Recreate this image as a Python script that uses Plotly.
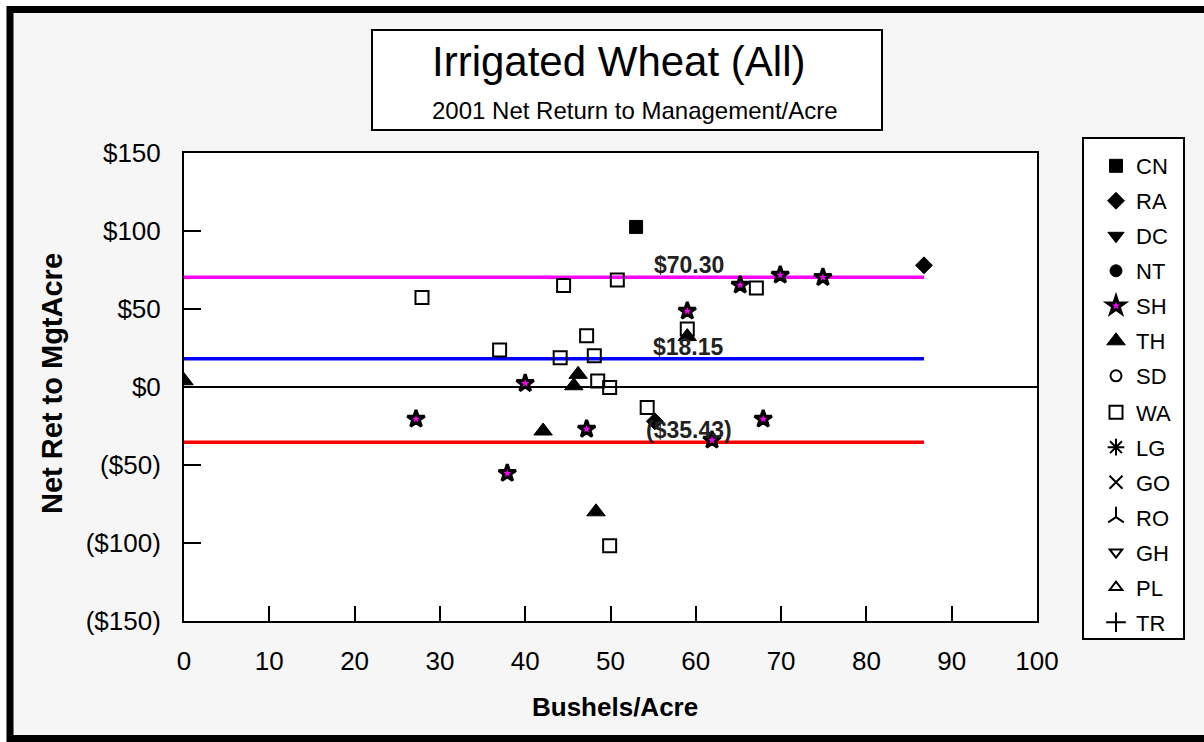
import plotly.graph_objects as go

# ---------------- data ----------------
series_names = ["CN", "RA", "DC", "NT", "SH", "TH", "SD", "WA", "LG", "GO", "RO", "GH", "PL", "TR"]

cn_x = [53.0]
cn_y = [102.6]
ra_x = [86.75, 55.2]
ra_y = [78.0, -22.0]
sh_x = [27.2, 37.9, 40.0, 47.2, 59.0, 61.9, 65.2, 67.9, 69.9, 74.9]
sh_y = [-20.5, -55.3, 2.3, -27.0, 48.7, -34.0, 65.4, -20.5, 71.8, 70.3]
th_x = [0.0, 42.1, 45.7, 46.2, 48.3, 59.0]
th_y = [4.0, -28.2, 0.8, 8.1, -80.0, 32.3]
wa_x = [27.9, 37.0, 44.1, 44.5, 47.2, 48.1, 48.5, 49.9, 49.9, 50.8, 54.3, 59.0, 67.1]
wa_y = [57.3, 23.7, 18.8, 65.0, 32.9, 20.1, 3.8, -0.4, -101.7, 68.6, -13.2, 37.2, 63.5]

ref_values = [70.30, 18.15, -35.43]
ref_labels = ["$70.30", "$18.15", "($35.43)"]
ref_colors = ["#FF00FF", "#0000FF", "#FF0000"]
ref_x = [0.0, 86.75]
ref_label_x = 59.2

x_ticks = [0, 10, 20, 30, 40, 50, 60, 70, 80, 90, 100]
y_ticks = [-150, -100, -50, 0, 50, 100, 150]
y_ticktext = ["($150)", "($100)", "($50)", "$0", "$50", "$100", "$150"]

title_text = "Irrigated Wheat (All)"
subtitle_text = "2001 Net Return to Management/Acre"
x_title = "Bushels/Acre"
y_title = "Net Ret to MgtAcre"

# ---------------- geometry (pixels) ----------------
W, H = 1204, 742
PL, PR, PT, PB = 184, 1037, 153, 621
pw, ph = PR - PL, PB - PT


def px(xp):
    return (xp - PL) / pw


def py(yp):
    return (PB - yp) / ph


FONT = "Liberation Sans, Arial, sans-serif"

fig = go.Figure()

# reference lines
for v, c in zip(ref_values, ref_colors):
    fig.add_trace(go.Scatter(x=ref_x, y=[v, v], mode="lines",
                             line=dict(color=c, width=3.5),
                             showlegend=False, hoverinfo="skip"))

styles = {
    "CN": dict(symbol="square", color="black", size=13, line=dict(color="black", width=1)),
    "RA": dict(symbol="diamond", color="black", size=13, line=dict(color="black", width=1)),
    "DC": dict(symbol="triangle-down", color="black", size=14, line=dict(color="black", width=1)),
    "NT": dict(symbol="circle", color="black", size=12, line=dict(color="black", width=1)),
    "SH": dict(symbol="star", color="#FF00FF", size=13, line=dict(color="black", width=3)),
    "TH": dict(symbol="triangle-up", color="black", size=16, line=dict(color="black", width=1)),
    "SD": dict(symbol="circle-open", color="black", size=11, line=dict(color="black", width=2)),
    "WA": dict(symbol="square-open", color="black", size=13, line=dict(color="black", width=2)),
    "LG": dict(symbol="asterisk-open", color="black", size=14, line=dict(color="black", width=2)),
    "GO": dict(symbol="x-thin-open", color="black", size=13, line=dict(color="black", width=2)),
    "RO": dict(symbol="y-up-open", color="black", size=13, line=dict(color="black", width=2)),
    "GH": dict(symbol="triangle-down-open", color="black", size=11, line=dict(color="black", width=2)),
    "PL": dict(symbol="triangle-up-open", color="black", size=11, line=dict(color="black", width=2)),
    "TR": dict(symbol="cross-thin-open", color="black", size=14, line=dict(color="black", width=2)),
}
data = {
    "CN": (cn_x, cn_y),
    "RA": (ra_x, ra_y),
    "SH": (sh_x, sh_y),
    "TH": (th_x, th_y),
    "WA": (wa_x, wa_y),
}

for i, name in enumerate(series_names):
    xs, ys = data.get(name, ([None], [None]))
    fig.add_trace(go.Scatter(x=xs, y=ys, mode="markers", name=name,
                             marker=styles[name], legendgroup=name,
                             legend="legend" if i < 7 else "legend2"))

annotations = []
for v, t in zip(ref_values, ref_labels):
    annotations.append(dict(x=ref_label_x, y=v, xref="x", yref="y", text="<b>%s</b>" % t,
                            showarrow=False, yshift=12,
                            font=dict(family=FONT, size=23, color="#222222")))

annotations += [
    dict(x=px(618), y=py(61), xref="paper", yref="paper", text=title_text, showarrow=False,
         xanchor="center", yanchor="middle", font=dict(family=FONT, size=42, color="black")),
    dict(x=px(635), y=py(110), xref="paper", yref="paper", text=subtitle_text, showarrow=False,
         xanchor="center", yanchor="middle", font=dict(family=FONT, size=24, color="black")),
    dict(x=px(615), y=py(707), xref="paper", yref="paper", text="<b>%s</b>" % x_title,
         showarrow=False, xanchor="center", yanchor="middle",
         font=dict(family=FONT, size=26, color="black")),
    dict(x=px(52), y=py(384), xref="paper", yref="paper", text="<b>%s</b>" % y_title,
         showarrow=False, textangle=-90, xanchor="center", yanchor="middle",
         font=dict(family=FONT, size=29, color="black")),
]

shapes = [
    # white strips outside the frame
    dict(type="rect", xref="paper", yref="paper", x0=px(-5), x1=px(7), y0=py(760), y1=py(-5),
         fillcolor="white", line=dict(width=0), layer="below"),
    dict(type="rect", xref="paper", yref="paper", x0=px(-5), x1=px(1220), y0=py(6), y1=py(-5),
         fillcolor="white", line=dict(width=0), layer="below"),
    # outer frame
    dict(type="rect", xref="paper", yref="paper", x0=px(10), x1=px(1220), y0=py(738.5), y1=py(9.5),
         line=dict(color="black", width=7), layer="below"),
    # title box
    dict(type="rect", xref="paper", yref="paper", x0=px(372), x1=px(882), y0=py(130), y1=py(30),
         fillcolor="white", line=dict(color="black", width=2), layer="below"),
    # legend box
    dict(type="rect", xref="paper", yref="paper", x0=px(1083), x1=px(1184), y0=py(639), y1=py(138),
         fillcolor="white", line=dict(color="black", width=2), layer="below"),
]

legend_common = dict(xanchor="left", yanchor="top", bgcolor="rgba(0,0,0,0)", borderwidth=0,
                     font=dict(family=FONT, size=22, color="black"),
                     traceorder="grouped", tracegroupgap=3.4, itemsizing="trace")

fig.update_layout(
    width=W, height=H,
    margin=dict(l=PL, r=W - PR, t=PT, b=H - PB, pad=0),
    paper_bgcolor="#F6F6F6",
    plot_bgcolor="white",
    showlegend=True,
    legend=dict(x=px(1096), y=py(145), **legend_common),
    legend2=dict(x=px(1096), y=py(145 + 7 * 35.2), **legend_common),
    annotations=annotations,
    shapes=shapes,
    xaxis=dict(range=[0, 100], tickvals=x_ticks, ticks="inside", ticklen=15, tickwidth=2,
               tickcolor="black", showline=True, linecolor="black", linewidth=2, mirror=True,
               showgrid=False, zeroline=False, ticklabelstandoff=16,
               tickfont=dict(family=FONT, size=26, color="black")),
    yaxis=dict(range=[-150, 150], tickvals=y_ticks, ticktext=y_ticktext, ticks="inside",
               ticklen=17, tickwidth=2, tickcolor="black", showline=True, linecolor="black",
               linewidth=2, mirror=True, showgrid=False, zeroline=True, zerolinecolor="black",
               zerolinewidth=2, ticklabelstandoff=16,
               tickfont=dict(family=FONT, size=26, color="black")),
)

fig.write_html("out.html")
